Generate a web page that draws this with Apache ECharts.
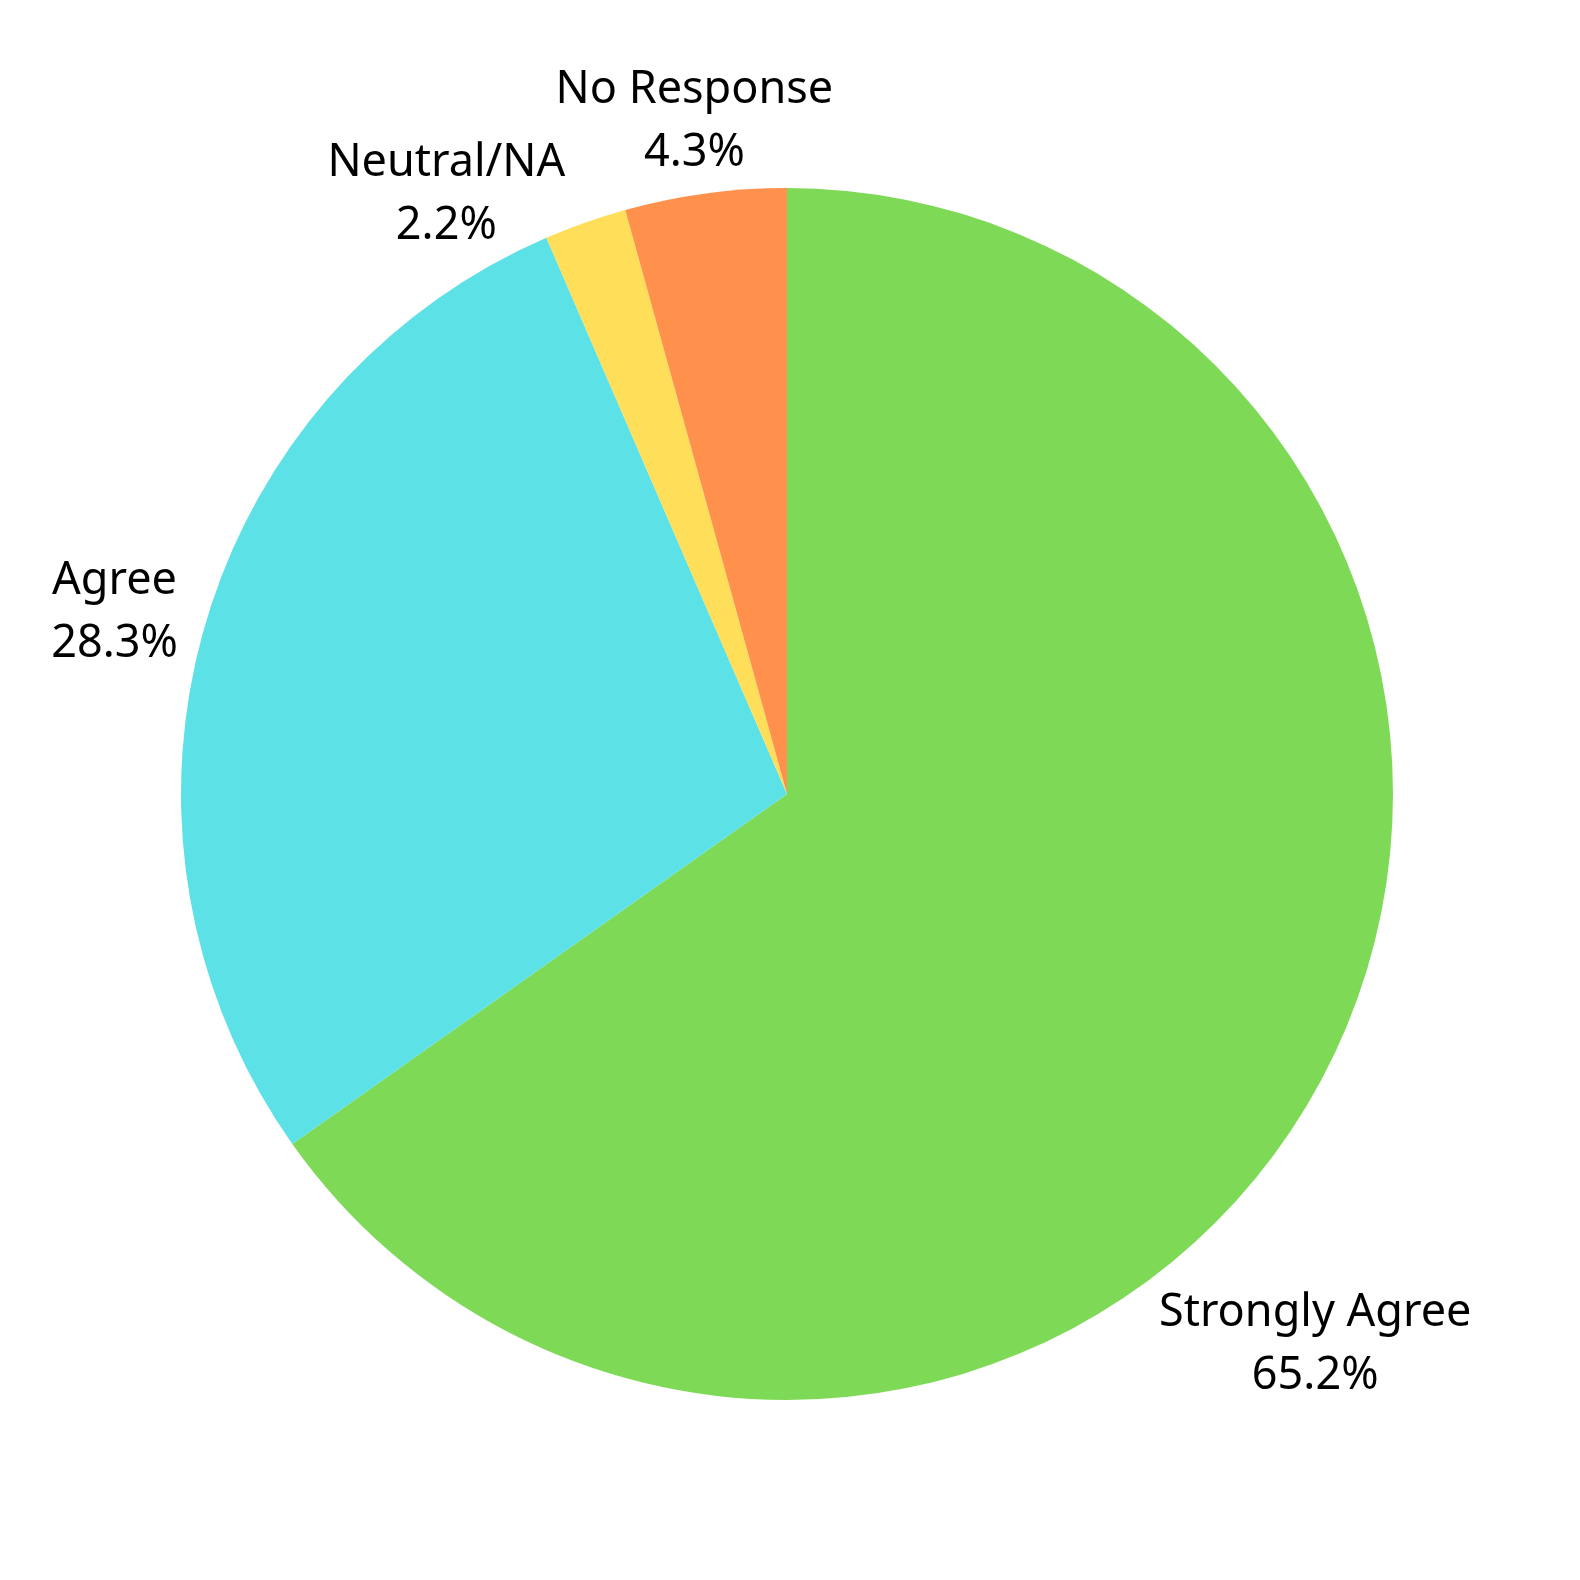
<!DOCTYPE html>
<html>
<head>
<meta charset="utf-8">
<script src="https://cdn.jsdelivr.net/npm/echarts@6/dist/echarts.min.js"></script>
<style>
  html, body { margin: 0; padding: 0; background: #ffffff; }
  #chart { width: 1580px; height: 1580px; }
</style>
</head>
<body>
<div id="chart"></div>
<script>
const categories = ['Strongly Agree', 'Agree', 'Neutral/NA', 'No Response'];
const values = [65.2, 28.3, 2.2, 4.3];
const colors = ['#7ED957', '#5CE1E6', '#FFDE59', '#FF914D'];

// label nudges (styling) to match reference placement
const labelNudge = [[-10, 272], [-89, -18], [-139, -28], [-11, -72]];

const chart = echarts.init(document.getElementById('chart'), null, { renderer: 'canvas' });
chart.setOption({
  backgroundColor: '#ffffff',
  animation: false,
  series: [{
    type: 'pie',
    center: [787, 794],
    radius: 606,
    startAngle: 90,
    clockwise: true,
    avoidLabelOverlap: false,
    data: categories.map((c, i) => ({ name: c, value: values[i], itemStyle: { color: colors[i] } })),
    itemStyle: { borderWidth: 0 },
    label: {
      show: true,
      position: 'outside',
      formatter: p => p.name + '\n' + p.value.toFixed(1) + '%',
      fontFamily: 'Noto Sans',
      fontSize: 45,
      lineHeight: 63,
      color: '#000000',
      distanceToLabelLine: 0
    },
    labelLine: { show: false, length: 0, length2: 0 },
    labelLayout: function (p) {
      const n = labelNudge[p.dataIndex];
      return { align: 'center', verticalAlign: 'middle', dx: n[0], dy: n[1] };
    },
    emphasis: { disabled: true }
  }]
});
</script>
</body>
</html>
